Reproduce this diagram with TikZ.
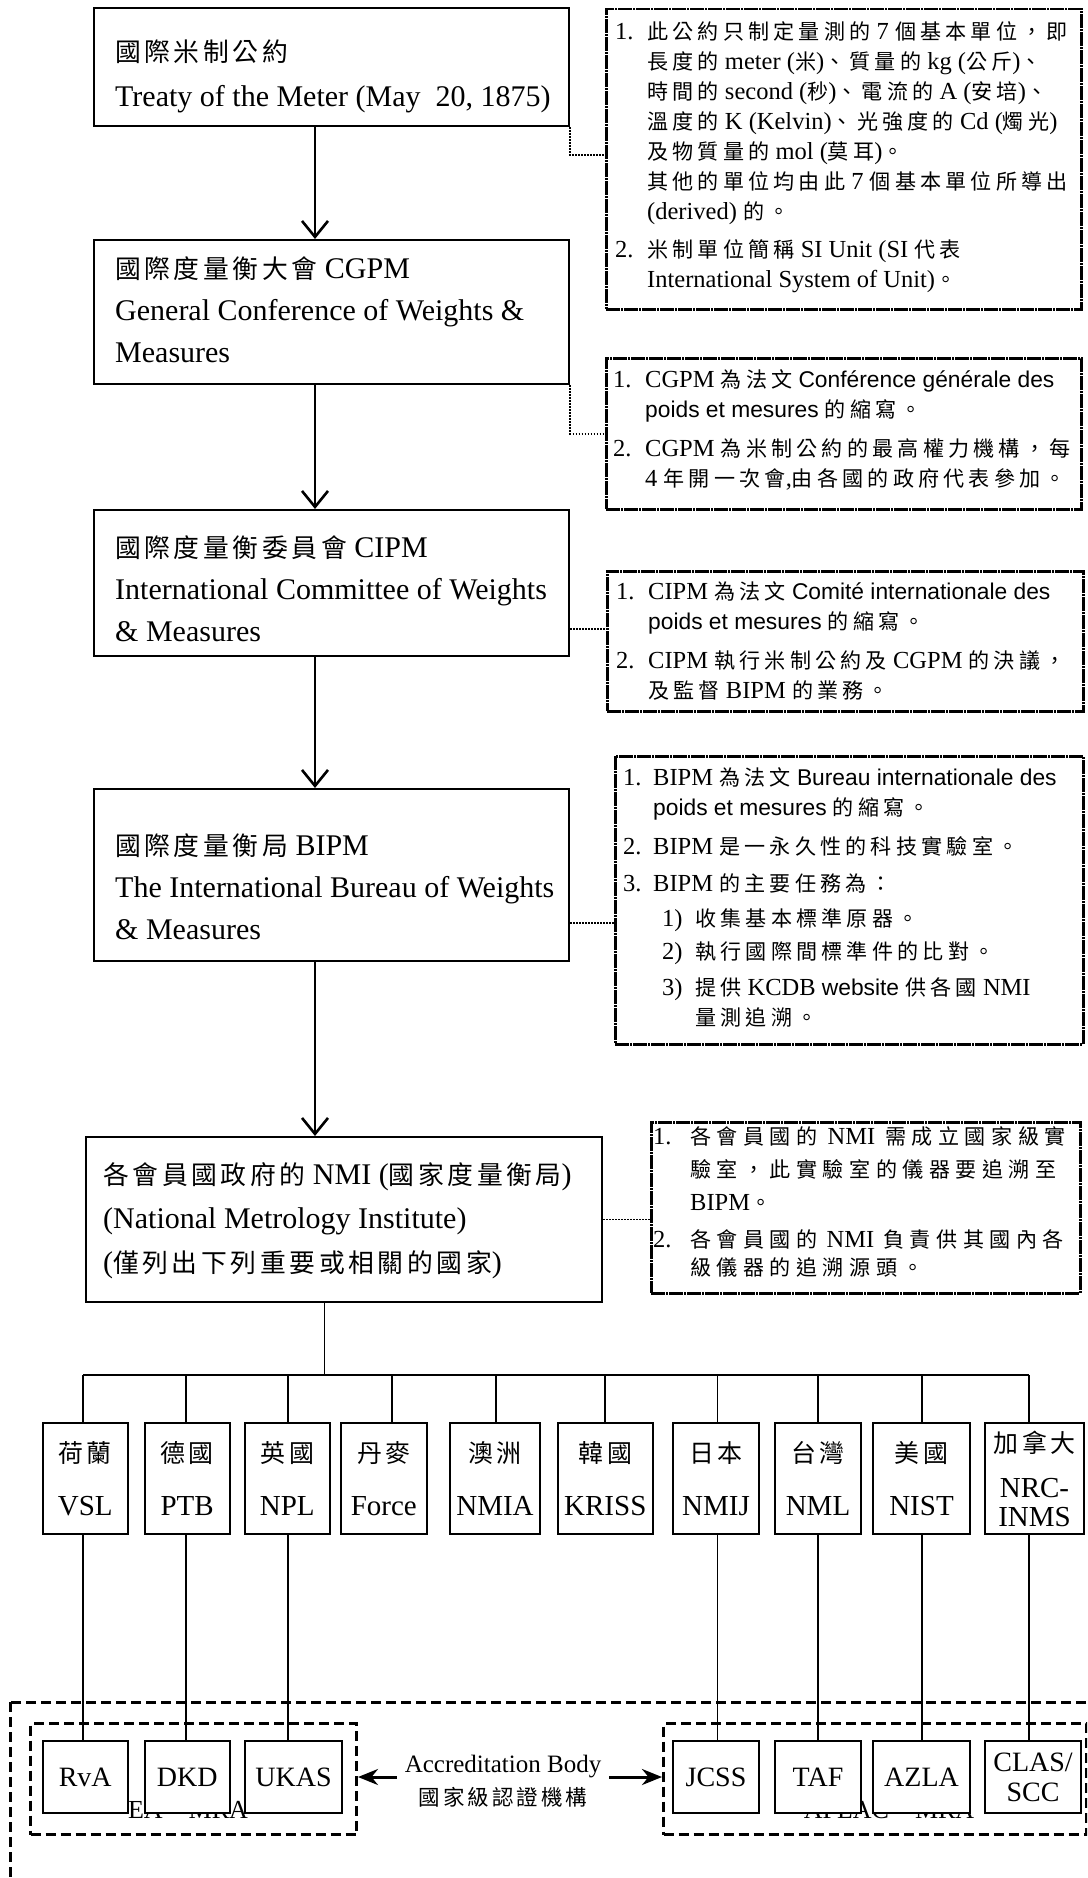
\documentclass[tikz,border=0pt]{standalone}
\usepackage{fontspec}
\setmainfont{Liberation Serif}
\newfontfamily\zhf[Scale=0.86,LetterSpace=14]{Noto Sans CJK TC}
\newfontfamily\zhnf[Scale=0.86,LetterSpace=20]{Noto Sans CJK TC}
\newfontfamily\zhwf[Scale=0.86,LetterSpace=26]{Noto Sans CJK TC}
\newfontfamily\arf[Scale=0.93]{Liberation Sans}
\newcommand\zh[1]{{\zhf #1}}
\newcommand\zn[1]{{\zhnf #1}}
\newcommand\zhw[1]{{\zhwf #1}}
\newcommand\ar[1]{{\arf #1}}
\newlength\itind
\newcommand\nn[1]{\makebox[\itind][l]{#1}}
\newcommand\nb{\hspace*{\itind}}
\usetikzlibrary{arrows.meta}
\begin{document}
\begin{tikzpicture}[x=1pt,y=-1pt,
  mainbox/.style={draw,line width=2.2pt,inner sep=0pt,anchor=north west},
  maintext/.style={align=left,inner sep=0pt,anchor=north west,font=\fontsize{30}{42}\selectfont},
  notebox/.style={draw,line width=2.5pt,dash pattern=on 14pt off 1pt on 2pt off 1pt,inner sep=0pt,anchor=north west},
  notetext/.style={align=left,inner sep=0pt,anchor=north west,font=\fontsize{24.5}{30}\selectfont},
  conn/.style={line width=1.6pt,dash pattern=on 1.6pt off 1.4pt},
  marrow/.style={line width=2.6pt,-{Straight Barb[length=16pt,width=26pt]}},
  tree/.style={line width=1.8pt},
  cbox/.style={draw,line width=2pt,fill=white,inner sep=0pt,anchor=north west,align=center,font=\fontsize{29}{53}\selectfont,minimum height=111pt},
  lbox/.style={draw,line width=2pt,fill=white,inner sep=0pt,anchor=north west,align=center,font=\fontsize{28}{30}\selectfont,minimum height=72pt},
  dbox/.style={draw,line width=3pt,dash pattern=on 10pt off 5pt,inner sep=0pt},
  accarrow/.style={line width=3pt,-{Stealth[length=20pt,width=16pt]}}
]
\clip (0,0) rectangle (1087,1878);
\fill[white] (0,0) rectangle (1087,1878);

% ---------- main column ----------
\node[mainbox,minimum width=475.5pt,minimum height=118pt] (treaty) at (92.5,7) {};
\node[maintext,font=\fontsize{30}{45}\selectfont] (treatyT) at (115,40)
  {\zh{國際米制公約}\\Treaty of the Meter (May\ \ 20, 1875)};

\node[mainbox,minimum width=475.5pt,minimum height=144pt] (cgpm) at (92.5,239) {};
\node[maintext] (cgpmT) at (115,256)
  {\zh{國際度量衡大會} CGPM\\General Conference of Weights \&\\Measures};

\node[mainbox,minimum width=475.5pt,minimum height=146pt] (cipm) at (92.5,509) {};
\node[maintext] (cipmT) at (115,535)
  {\zh{國際度量衡委員會} CIPM\\International Committee of Weights\\\& Measures};

\node[mainbox,minimum width=475.5pt,minimum height=172pt] (bipm) at (92.5,788) {};
\node[maintext] (bipmT) at (115,833)
  {\zh{國際度量衡局} BIPM\\The International Bureau of Weights\\\& Measures};

\node[mainbox,minimum width=516pt,minimum height=165pt] (nmi) at (85,1136) {};
\node[maintext,font=\fontsize{30}{44}\selectfont] (nmiT) at (103,1162)
  {\zh{各會員國政府的} NMI (\zh{國家度量衡局})\\(National Metrology Institute)\\(\zh{僅列出下列重要或相關的國家})};

\coordinate (ax) at (315,0);
\draw[marrow] (treaty.south -| ax) -- (cgpm.north -| ax);
\draw[marrow] (cgpm.south -| ax) -- (cipm.north -| ax);
\draw[marrow] (cipm.south -| ax) -- (bipm.north -| ax);
\draw[marrow] (bipm.south -| ax) -- (nmi.north -| ax);

% ---------- notes ----------
\node[notebox,minimum width=475pt,minimum height=300pt] (n1) at (605,8) {};
\setlength\itind{32pt}
\node[notetext] (n1T) at (615,21.5)
  {\nn{1.}\zn{此公約只制定量測的} 7 \zn{個基本單位，即}\\
   \nb\zn{長度的} meter (\zn{米})\zn{、質量的} kg (\zn{公斤})\zn{、}\\
   \nb\zn{時間的} second (\zn{秒})\zn{、電流的} A (\zn{安培})\zn{、}\\
   \nb\zn{溫度的} K (Kelvin)\zn{、光強度的} Cd (\zn{燭光})\\
   \nb\zn{及物質量的} mol (\zn{莫耳})\zn{。}\\
   \nb\zn{其他的單位均由此} 7 \zn{個基本單位所導出}\\
   \nb(derived) \zn{的。}\\[8pt]
   \nn{2.}\zn{米制單位簡稱} SI Unit (SI \zn{代表}\\
   \nb International System of Unit)\zn{。}};

\node[notebox,minimum width=475pt,minimum height=151pt] (n2) at (605,357) {};
\node[notetext] (n2T) at (613,369.5)
  {\nn{1.}CGPM \zn{為法文} \ar{Conférence générale des}\\
   \nb\ar{poids et mesures} \zn{的縮寫。}\\[9pt]
   \nn{2.}CGPM \zn{為米制公約的最高權力機構，每}\\
   \nb 4 \zn{年開一次會},\zn{由各國的政府代表參加。}};

\node[notebox,minimum width=476pt,minimum height=140pt] (n3) at (606,570) {};
\node[notetext] (n3T) at (616,581.5)
  {\nn{1.}CIPM \zn{為法文} \ar{Comité internationale des}\\
   \nb\ar{poids et mesures} \zn{的縮寫。}\\[9pt]
   \nn{2.}CIPM \zn{執行米制公約及} CGPM \zn{的決議，}\\
   \nb\zn{及監督} BIPM \zn{的業務。}};

\node[notebox,minimum width=468pt,minimum height=288pt] (n4) at (614,755) {};
\setlength\itind{30pt}
\node[notetext] (n4T) at (623,767.5)
  {\nn{1.}BIPM \zn{為法文} \ar{Bureau internationale des}\\
   \nb\ar{poids et mesures} \zn{的縮寫。}\\[9pt]
   \nn{2.}BIPM \zn{是一永久性的科技實驗室。}\\[7pt]
   \nn{3.}BIPM \zn{的主要任務為：}\\[5pt]
   \hspace*{39pt}\makebox[33pt][l]{1)}\zn{收集基本標準原器。}\\[3pt]
   \hspace*{39pt}\makebox[33pt][l]{2)}\zn{執行國際間標準件的比對。}\\[6pt]
   \hspace*{39pt}\makebox[33pt][l]{3)}\zn{提供} KCDB \ar{website} \zn{供各國} NMI\\
   \hspace*{72pt}\zn{量測追溯。}};

\node[notebox,minimum width=429pt,minimum height=171pt] (n5) at (650,1121) {};
\setlength\itind{37pt}
\node[notetext,font=\fontsize{24.5}{33}\selectfont] (n5T) at (653,1126.5)
  {\nn{1.}\zhw{各會員國的}\hspace{4pt} NMI \hspace{4pt}\zhw{需成立國家級實}\\
   \nb\zhw{驗室，此實驗室的儀器要追溯至}\\
   \nb BIPM\zhw{。}\\[4pt]
   \nn{2.}\zhw{各會員國的}\hspace{3pt} NMI \hspace{3pt}\zhw{負責供其國內各}\\[-5pt]
   \nb\zhw{級儀器的追溯源頭。}};

\coordinate (c3) at (0,629);
\coordinate (c4) at (0,923);
\draw[conn] (treaty.south east) |- ([yshift=4pt]n1.west);
\draw[conn] (cgpm.south east) |- (n2.west);
\draw[conn] (cipm.east |- c3) -- (n3.west |- c3);
\draw[conn] (bipm.east |- c4) -- (n4.west |- c4);
\draw[conn] (nmi.east) -- (nmi.east -| n5.west);

% ---------- country tree ----------
\coordinate (stem) at (324.5,1375);
\foreach \i/\x in {1/83,2/186,3/288,4/392,5/496,6/605,7/717.5,8/818,9/922,10/1029}
  \coordinate (b\i) at (\x,1375);
\draw[tree] (nmi.south -| stem) -- (stem);
\draw[tree] (b1) -- (b10);

\node[cbox,minimum width=85.3pt] (vsl) at (41.6,1422) {\zh{荷蘭}\\VSL};
\node[cbox,minimum width=85.3pt] (ptb) at (143.5,1422) {\zh{德國}\\PTB};
\node[cbox,minimum width=84.6pt] (npl) at (244,1422) {\zh{英國}\\NPL};
\node[cbox,minimum width=85.6pt] (force) at (340,1422) {\zh{丹麥}\\Force};
\node[cbox,minimum width=90pt] (nmia) at (449,1422) {\zh{澳洲}\\NMIA};
\node[cbox,minimum width=94.6pt] (kriss) at (557,1422) {\zh{韓國}\\KRISS};
\node[cbox,minimum width=86pt] (nmij) at (672,1422) {\zh{日本}\\NMIJ};
\node[cbox,minimum width=86pt] (nml) at (774,1422) {\zh{台灣}\\NML};
\node[cbox,minimum width=97pt] (nist) at (872,1422) {\zh{美國}\\NIST};
\node[cbox,minimum width=99pt,font=\fontsize{29}{29}\selectfont] (nrc) at (984,1422) {\zh{加拿大}\\[16pt]NRC-\\INMS};

\draw[tree] (b1) -- (b1 |- vsl.north);
\draw[tree] (b2) -- (b2 |- ptb.north);
\draw[tree] (b3) -- (b3 |- npl.north);
\draw[tree] (b4) -- (b4 |- force.north);
\draw[tree] (b5) -- (b5 |- nmia.north);
\draw[tree] (b6) -- (b6 |- kriss.north);
\draw[tree] (b7) -- (b7 |- nmij.north);
\draw[tree] (b8) -- (b8 |- nml.north);
\draw[tree] (b9) -- (b9 |- nist.north);
\draw[tree] (b10) -- (b10 |- nrc.north);

% ---------- accreditation ----------
\draw[dbox] (10,1702) rectangle (1100,1900);
\node[dbox,minimum width=326pt,minimum height=111pt,anchor=north west] (ea) at (29,1722) {};
\node[dbox,minimum width=423pt,minimum height=111pt,anchor=north west] (ap) at (662,1722) {};
\node[anchor=base,inner sep=0pt,font=\fontsize{26}{26}\selectfont] (eal) at (188,1818) {EA -- MRA};
\node[anchor=base,inner sep=0pt,font=\fontsize{26}{26}\selectfont] (apl) at (889,1818) {APLAC -- MRA};

\node[lbox,minimum width=85.3pt] (rva) at (41.6,1740) {RvA};
\node[lbox,minimum width=85.3pt] (dkd) at (143.5,1740) {DKD};
\node[lbox,minimum width=97pt] (ukas) at (244,1740) {UKAS};
\node[lbox,minimum width=86pt] (jcss) at (672,1740) {JCSS};
\node[lbox,minimum width=86pt] (taf) at (774,1740) {TAF};
\node[lbox,minimum width=97pt] (azla) at (872,1740) {AZLA};
\node[lbox,minimum width=96pt] (clas) at (984,1740) {CLAS/\\SCC};

\draw[tree] (vsl.south -| b1) -- (rva.north -| b1);
\draw[tree] (ptb.south -| b2) -- (dkd.north -| b2);
\draw[tree] (npl.south -| b3) -- (ukas.north -| b3);
\draw[tree] (nmij.south -| b7) -- (jcss.north -| b7);
\draw[tree] (nml.south -| b8) -- (taf.north -| b8);
\draw[tree] (nist.south -| b9) -- (azla.north -| b9);
\draw[tree] (nrc.south -| b10) -- (clas.north -| b10);

\node[align=center,inner xsep=8pt,inner ysep=0pt,font=\fontsize{25}{33}\selectfont] (acc) at (503,1781)
  {Accreditation Body\\\zh{國家級認證機構}};
\draw[accarrow] ([yshift=4pt]acc.west) -- ([yshift=4pt]acc.west -| ea.east);
\draw[accarrow] ([yshift=4pt]acc.east) -- ([yshift=4pt]acc.east -| ap.west);
\end{tikzpicture}
\end{document}
